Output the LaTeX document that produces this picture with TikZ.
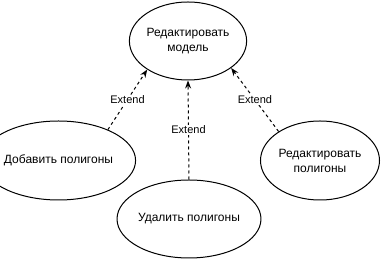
\documentclass[tikz,border=0pt]{standalone}
\usepackage{fontspec}
\setmainfont{Liberation Sans}
\usetikzlibrary{shapes.geometric,arrows.meta}

\begin{document}
\begin{tikzpicture}[x=1pt, y=-1pt,
    usecase/.style={ellipse, draw, line width=1pt, inner sep=0pt,
      minimum width=116pt, minimum height=78pt, align=center,
      font=\fontsize{12}{15}\selectfont},
    extend/.style={dashed, dash pattern=on 3pt off 3pt, line width=1pt,
      -{Stealth[length=8pt, width=6pt]}},
    extlabel/.style={fill=white, inner sep=1pt,
      font=\fontsize{11}{13}\selectfont}]

  \useasboundingbox (0,0) rectangle (381,261);

  % Use cases
  \node[usecase] (editmodel) at (188,41) {Редактировать\\модель};
  \node[usecase, minimum width=114pt, minimum height=79pt] (addpoly) at (58.5,160.5) {Добавить полигоны};
  \node[usecase, minimum width=118pt] (delpoly) at (189,219) {Удалить полигоны};
  \node[usecase, minimum width=119pt, minimum height=79pt] (editpoly) at (320,160.5) {Редактировать\\полигоны};

  % Extend relations
  \draw[extend] (addpoly.32) -- (editmodel.215)
    node[midway, extlabel] {Extend};
  \draw[extend] (delpoly.north) -- (editmodel.south)
    node[midway, extlabel] {Extend};
  \draw[extend] (editpoly.145) -- (editmodel.-32)
    node[midway, extlabel] {Extend};

\end{tikzpicture}
\end{document}
